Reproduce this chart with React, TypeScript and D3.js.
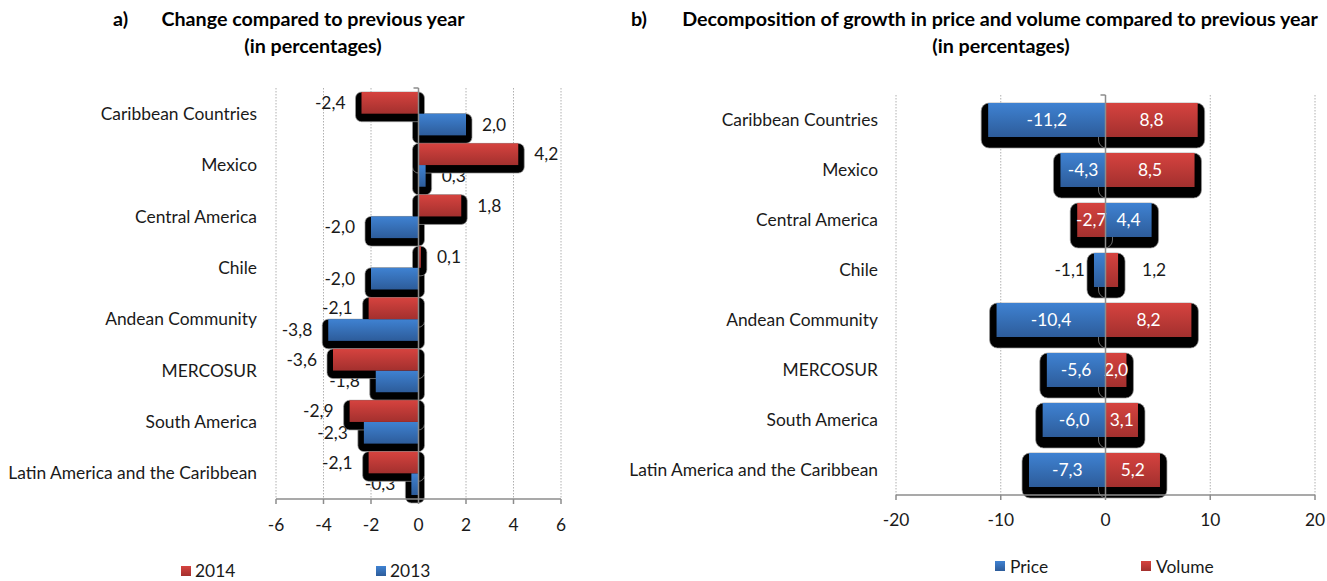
import * as d3 from 'd3';

const W = 1327;
const H = 581;

const categories = [
  'Caribbean Countries',
  'Mexico',
  'Central America',
  'Chile',
  'Andean Community',
  'MERCOSUR',
  'South America',
  'Latin America and the Caribbean',
];
// panel a — change compared to previous year (%)
const change2014 = [-2.4, 4.2, 1.8, 0.1, -2.1, -3.6, -2.9, -2.1];
const change2013 = [2.0, 0.3, -2.0, -2.0, -3.8, -1.8, -2.3, -0.3];
// panel b — decomposition of growth (%)
const priceGrowth = [-11.2, -4.3, 4.4, -1.1, -10.4, -5.6, -6.0, -7.3];
const volumeGrowth = [8.8, 8.5, -2.7, 1.2, 8.2, 2.0, 3.1, 5.2];

const ticksA = [-6, -4, -2, 0, 2, 4, 6];
const ticksB = [-20, -10, 0, 10, 20];

const FONT = "Lato, 'Open Sans', sans-serif";
const FS = 17.4;   // regular text
const FT = 19.7;   // bold titles
const TXT = '#1a1a1a';
const AXIS = '#8c8c8c';
const GRID = '#b0b0b0';

const locale = d3.formatLocale({ decimal: ',', thousands: '.', grouping: [3], currency: ['', ''], minus: '-' });
const fmt1 = locale.format('.1f');
const fmt0 = locale.format('d');

type Seg = { x: number; w: number; y: number; h: number; v: number };

function segRect(x: d3.ScaleLinear<number, number>, a: number, b: number, y: number, h: number, v: number): Seg {
  const x0 = x(Math.min(a, b));
  const x1 = x(Math.max(a, b));
  return { x: x0, w: x1 - x0, y, h, v };
}

function Shadows({ segs, dx, dh, r }: { segs: Seg[]; dx: number; dh: number; r: number }) {
  return (
    <g>
      {segs.map((s, i) => (
        <rect key={i} x={s.x - dx} y={s.y} width={s.w + dx * 2} height={s.h + dh}
          rx={r} fill="#000" stroke="#9a9a9a" strokeWidth={0.7} />
      ))}
    </g>
  );
}

function Bars({ segs, fill }: { segs: Seg[]; fill: string }) {
  return (
    <g>
      {segs.map((s, i) => (
        <rect key={i} x={s.x} y={s.y} width={s.w} height={s.h} fill={fill} />
      ))}
    </g>
  );
}

function BottomAxis({ x, ticks, y, labelY }: { x: d3.ScaleLinear<number, number>; ticks: number[]; y: number; labelY: number }) {
  const [r0, r1] = x.range();
  return (
    <g>
      <line x1={r0} x2={r1} y1={y} y2={y} stroke={AXIS} strokeWidth={1.5} />
      {ticks.map(t => (
        <g key={t}>
          <line x1={x(t)} x2={x(t)} y1={y} y2={y + 5} stroke={AXIS} strokeWidth={1.5} />
          <text x={x(t)} y={labelY} textAnchor="middle" fontSize={FS} fill={TXT}>{fmt0(t)}</text>
        </g>
      ))}
    </g>
  );
}

function PanelA() {
  const x = d3.scaleLinear().domain([-6, 6]).range([276, 561]);
  const y = d3.scaleBand<string>().domain(categories).range([88, 499]).paddingInner(0.156).paddingOuter(0.078);
  const sub = d3.scaleBand<string>().domain(['2014', '2013']).range([0, y.bandwidth()]);
  const [top, bottom] = y.range();

  const red = categories.map((c, i) => segRect(x, 0, change2014[i], y(c)! + sub('2014')!, sub.bandwidth(), change2014[i]));
  const blue = categories.map((c, i) => segRect(x, 0, change2013[i], y(c)! + sub('2013')!, sub.bandwidth(), change2013[i]));

  const labels = (segs: Seg[]) => segs.map((s, i) => (
    <text key={i} x={s.v < 0 ? x(s.v) - 16 : x(s.v) + 16} y={s.y + s.h / 2} dy="0.35em"
      textAnchor={s.v < 0 ? 'end' : 'start'} fontSize={FS} fill={TXT}>{fmt1(s.v)}</text>
  ));

  const bounds = categories.map(c => y(c)! - (y.step() - y.bandwidth()) / 2).concat([bottom]);

  return (
    <g>
      {ticksA.filter(t => t !== 0).map(t => (
        <line key={t} x1={x(t)} x2={x(t)} y1={top} y2={bottom} stroke={GRID} strokeDasharray="1.5 1.5" />
      ))}
      {bounds.map((b, i) => (
        <line key={i} x1={x(0) - 5} x2={x(0)} y1={b} y2={b} stroke={AXIS} strokeWidth={1.5} />
      ))}
      <Shadows segs={blue} dx={6} dh={8} r={6} />
      {labels(blue)}
      <Shadows segs={red} dx={6} dh={8} r={6} />
      <Bars segs={blue} fill="url(#gBlue)" />
      <Bars segs={red} fill="url(#gRed)" />
      {labels(red)}
      <line x1={x(0)} x2={x(0)} y1={top} y2={bottom} stroke={AXIS} strokeWidth={1.5} />
      <BottomAxis x={x} ticks={ticksA} y={bottom} labelY={531} />
      {categories.map(c => (
        <text key={c} x={257} y={y(c)! + y.bandwidth() / 2} dy="0.35em" textAnchor="end" fontSize={FS} fill={TXT}>{c}</text>
      ))}
      {/* legend */}
      <rect x={181} y={566} width={10} height={10} fill="url(#gRed)" />
      <text x={195} y={577} fontSize={FS} fill={TXT}>2014</text>
      <rect x={376} y={566} width={10} height={10} fill="url(#gBlue)" />
      <text x={390} y={577} fontSize={FS} fill={TXT}>2013</text>
      {/* title */}
      <text x={113} y={26} fontSize={FT} fontWeight="bold" fill="#000">a)</text>
      <text x={313} y={26} fontSize={FT} fontWeight="bold" fill="#000" textAnchor="middle">Change compared to previous year</text>
      <text x={313} y={53} fontSize={FT} fontWeight="bold" fill="#000" textAnchor="middle">(in percentages)</text>
    </g>
  );
}

function PanelB() {
  const x = d3.scaleLinear().domain([-20, 20]).range([896, 1315]);
  const y = d3.scaleBand<string>().domain(categories).range([95, 495]).paddingInner(0.32).paddingOuter(0.16);
  const [top, bottom] = y.range();

  const rows = categories.map((c, i) => ({ cat: c, price: priceGrowth[i], volume: volumeGrowth[i] }));
  const stacked = d3.stack<{ cat: string; price: number; volume: number }>()
    .keys(['price', 'volume'])
    .offset(d3.stackOffsetDiverging)(rows);

  const segsOf = (k: number) => stacked[k].map(d =>
    segRect(x, d[0], d[1], y(d.data.cat)!, y.bandwidth(), k === 0 ? d.data.price : d.data.volume));
  const price = segsOf(0);
  const volume = segsOf(1);

  const labels = (segs: Seg[]) => segs.map((s, i) => {
    const small = Math.abs(s.v) < 1.5;
    let lx = s.x + s.w / 2;
    let anchor = 'middle';
    if (small) {
      lx = s.v < 0 ? x(s.v) - 9 : x(s.v) + 24;
      anchor = s.v < 0 ? 'end' : 'start';
    }
    return (
      <text key={i} x={lx} y={s.y + s.h / 2} dy="0.35em" textAnchor={anchor} fontSize={FS}
        fill={small ? TXT : '#fff'}>{fmt1(s.v)}</text>
    );
  });

  return (
    <g>
      {ticksB.filter(t => t !== 0).map(t => (
        <line key={t} x1={x(t)} x2={x(t)} y1={top} y2={bottom} stroke={GRID} strokeDasharray="1.5 1.5" />
      ))}
      <line x1={x(0) - 5} x2={x(0)} y1={top} y2={top} stroke={AXIS} strokeWidth={1.5} />
      <Shadows segs={price} dx={7} dh={11} r={8} />
      <Shadows segs={volume} dx={7} dh={11} r={8} />
      <Bars segs={price} fill="url(#gBlue)" />
      <Bars segs={volume} fill="url(#gRed)" />
      {labels(price)}
      {labels(volume)}
      <line x1={x(0)} x2={x(0)} y1={top} y2={bottom} stroke={AXIS} strokeWidth={1.5} />
      <BottomAxis x={x} ticks={ticksB} y={bottom} labelY={526} />
      {categories.map(c => (
        <text key={c} x={878} y={y(c)! + y.bandwidth() / 2} dy="0.35em" textAnchor="end" fontSize={FS} fill={TXT}>{c}</text>
      ))}
      {/* legend */}
      <rect x={995} y={561} width={10} height={10} fill="url(#gBlue)" />
      <text x={1010} y={573} fontSize={FS} fill={TXT}>Price</text>
      <rect x={1141} y={561} width={10} height={10} fill="url(#gRed)" />
      <text x={1156} y={573} fontSize={FS} fill={TXT}>Volume</text>
      {/* title */}
      <text x={631} y={26} fontSize={FT} fontWeight="bold" fill="#000">b)</text>
      <text x={1000} y={26} fontSize={FT} fontWeight="bold" fill="#000" textAnchor="middle">Decomposition of growth in price and volume compared to previous year</text>
      <text x={1001} y={53} fontSize={FT} fontWeight="bold" fill="#000" textAnchor="middle">(in percentages)</text>
    </g>
  );
}

export default function App() {
  return (
    <svg width={W} height={H} style={{ position: 'absolute', left: 0, top: 0, background: '#fff' }} fontFamily={FONT}>
      <defs>
        <linearGradient id="gRed" x1="0" x2="0" y1="0" y2="1">
          <stop offset="0%" stopColor="#d6433f" />
          <stop offset="100%" stopColor="#a3302e" />
        </linearGradient>
        <linearGradient id="gBlue" x1="0" x2="0" y1="0" y2="1">
          <stop offset="0%" stopColor="#3f82d2" />
          <stop offset="100%" stopColor="#2d5c9a" />
        </linearGradient>
      </defs>
      <PanelA />
      <PanelB />
    </svg>
  );
}
